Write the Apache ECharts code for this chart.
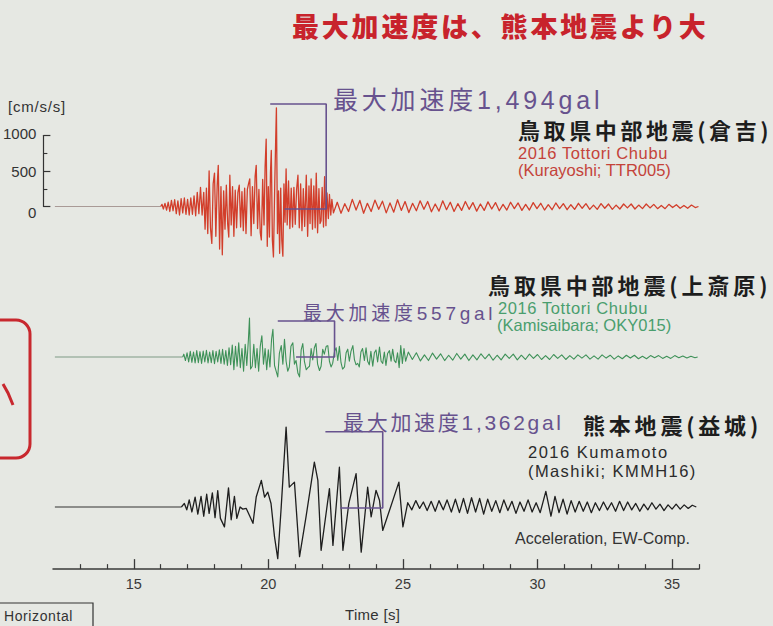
<!DOCTYPE html>
<html>
<head>
<meta charset="utf-8">
<script src="https://cdn.jsdelivr.net/npm/echarts@6/dist/echarts.min.js"></script>
<style>
html,body{margin:0;padding:0;background:#e6e8e3;}
#chart{width:773px;height:626px;}
</style>
</head>
<body>
<div id="chart"></div>
<script>
// ---------- DATA (time [s], acceleration [cm/s/s]) ----------
const timeTicks = [15, 20, 25, 30, 35];
const timeMinorTicks = [13, 14, 16, 17, 18, 19, 21, 22, 23, 24, 26, 27, 28, 29, 31, 32, 33, 34, 36];
const scaleTicks = [0, 500, 1000];

// 2016 Tottori Chubu (Kurayoshi; TTR005)
const kurayoshi = [
[12.07,0],[16.0,0],[16.05,30],[16.1,-35],[16.16,45],[16.22,-50],[16.28,60],[16.34,-70],[16.4,85],[16.46,-60],
[16.52,95],[16.58,-100],[16.64,80],[16.7,-120],[16.76,110],[16.82,-90],[16.88,120],[16.94,-110],[17.0,100],[17.06,-120],
[17.12,120],[17.18,-110],[17.24,150],[17.3,-130],[17.36,200],[17.42,-100],[17.48,270],[17.54,-120],[17.6,200],[17.65,-320],
[17.7,260],[17.75,-380],[17.8,500],[17.85,-300],[17.9,-520],[17.95,320],[18.0,470],[18.05,-420],[18.1,300],[18.14,580],
[18.19,-600],[18.24,280],[18.29,-680],[18.34,220],[18.39,-320],[18.44,300],[18.49,-250],[18.53,-430],[18.57,440],[18.62,-260],
[18.67,280],[18.72,-420],[18.77,230],[18.82,-300],[18.87,200],[18.92,300],[18.97,-290],[19.02,210],[19.07,-340],[19.12,260],
[19.17,-380],[19.22,240],[19.27,330],[19.31,390],[19.36,-410],[19.41,280],[19.46,-240],[19.51,430],[19.55,580],[19.6,-310],
[19.65,240],[19.7,-370],[19.74,-470],[19.79,380],[19.84,-260],[19.88,560],[19.92,950],[19.96,-560],[20.0,280],[20.04,-430],
[20.08,480],[20.11,790],[20.15,-470],[20.19,-710],[20.24,340],[20.27,880],[20.3,1390],[20.34,-380],[20.38,220],[20.42,-660],
[20.46,260],[20.5,-480],[20.54,-700],[20.58,320],[20.62,-220],[20.66,530],[20.7,-260],[20.75,360],[20.8,-310],[20.85,260],
[20.9,-290],[20.95,270],[21.0,-250],[21.05,240],[21.1,440],[21.15,-300],[21.2,320],[21.25,-340],[21.3,250],[21.35,-280],
[21.41,440],[21.46,-420],[21.51,290],[21.55,-240],[21.59,390],[21.64,-320],[21.69,290],[21.74,-300],[21.78,470],[21.83,-370],
[21.88,250],[21.92,-240],[21.96,-200],[22.0,270],[22.05,-290],[22.09,420],[22.14,-270],[22.18,190],[22.23,-170],[22.27,170],
[22.32,-120],[22.36,100],[22.42,-90],[22.56,60],[22.7,-95],[22.84,40],[22.98,-70],[23.12,100],[23.26,-50],[23.4,85],
[23.54,-95],[23.68,45],[23.82,-70],[23.96,90],[24.1,-40],[24.24,75],[24.38,-90],[24.52,50],[24.66,-80],[24.8,95],
[24.94,-55],[25.08,70],[25.22,-85],[25.36,45],[25.5,-60],[25.64,80],[25.78,-40],[25.92,70],[26.06,-75],[26.2,35],
[26.34,-65],[26.48,80],[26.62,-45],[26.76,60],[26.9,-70],[27.04,40],[27.18,-55],[27.32,70],[27.46,-40],[27.6,55],
[27.74,-65],[27.88,35],[28.02,-55],[28.16,65],[28.3,-35],[28.44,55],[28.58,-60],[28.72,30],[28.86,-50],[29.0,60],
[29.14,-30],[29.28,50],[29.42,-55],[29.56,30],[29.7,-50],[29.84,55],[29.98,-30],[30.12,45],[30.26,-50],[30.4,25],
[30.54,-45],[30.68,50],[30.82,-30],[30.96,40],[31.1,-45],[31.24,25],[31.38,-40],[31.52,45],[31.66,-25],[31.8,40],
[31.94,-40],[32.08,20],[32.22,-40],[32.36,40],[32.5,-25],[32.64,35],[32.78,-40],[32.92,20],[33.06,-35],[33.2,35],
[33.34,-20],[33.48,35],[33.62,-35],[33.76,20],[33.9,-30],[34.04,35],[34.18,-20],[34.32,30],[34.46,-30],[34.6,15],
[34.74,-30],[34.88,30],[35.02,-15],[35.16,25],[35.3,-25],[35.44,15],[35.58,-25],[35.72,20],[35.86,-15],[35.98,0]
];

// 2016 Tottori Chubu (Kamisaibara; OKY015)
const kamisaibara = [
[12.07,0],[16.82,0],[16.86,40],[16.92,-50],[16.98,60],[17.04,-70],[17.1,80],[17.16,-75],[17.22,70],[17.28,-85],
[17.34,90],[17.4,-80],[17.46,75],[17.52,-90],[17.58,85],[17.64,-70],[17.7,95],[17.76,-85],[17.82,70],[17.88,-80],
[17.94,90],[18.0,-95],[18.06,80],[18.12,-70],[18.18,100],[18.24,-90],[18.3,110],[18.36,-100],[18.42,90],[18.48,-120],
[18.54,130],[18.6,-110],[18.66,170],[18.72,-180],[18.78,150],[18.84,-130],[18.9,200],[18.96,-150],[19.02,120],[19.08,-200],
[19.14,180],[19.2,-120],[19.26,250],[19.3,550],[19.34,-170],[19.4,-130],[19.46,180],[19.52,-150],[19.58,120],[19.64,-200],
[19.7,150],[19.76,300],[19.82,-100],[19.88,120],[19.94,-180],[20.0,100],[20.06,-140],[20.12,250],[20.17,390],[20.23,-120],
[20.29,-200],[20.35,-280],[20.41,50],[20.48,160],[20.54,-100],[20.6,250],[20.66,-60],[20.72,-200],[20.78,-140],[20.84,150],
[20.91,200],[20.97,-100],[21.03,-50],[21.1,-230],[21.16,-280],[21.22,100],[21.28,190],[21.34,-60],[21.41,-180],[21.47,-150],
[21.53,-130],[21.59,120],[21.65,-40],[21.71,130],[21.77,190],[21.83,-100],[21.9,-190],[21.96,-130],[22.02,110],[22.08,40],
[22.15,150],[22.21,160],[22.27,-60],[22.33,-140],[22.39,-90],[22.46,80],[22.52,130],[22.58,-50],[22.64,150],[22.7,-80],
[22.76,-170],[22.83,-140],[22.89,60],[22.95,110],[23.01,-60],[23.07,80],[23.14,160],[23.2,-40],[23.26,-110],[23.32,-90],
[23.38,-140],[23.44,70],[23.5,120],[23.57,-50],[23.63,130],[23.69,-60],[23.75,-110],[23.81,80],[23.88,-130],[23.94,60],
[24.0,100],[24.06,-70],[24.13,140],[24.19,-60],[24.25,-90],[24.31,70],[24.37,-120],[24.43,50],[24.5,90],[24.56,-60],
[24.62,110],[24.68,-50],[24.74,-80],[24.8,60],[24.86,-150],[24.92,160],[24.98,-90],[25.04,120],[25.1,-60],[25.2,70],
[25.35,-35],[25.5,60],[25.65,-55],[25.8,30],[25.95,-50],[26.1,55],[26.25,-30],[26.4,45],[26.55,-50],[26.7,25],
[26.85,-45],[27.0,50],[27.15,-30],[27.3,40],[27.45,-50],[27.6,30],[27.75,-40],[27.9,45],[28.05,-25],[28.2,40],
[28.35,-45],[28.5,25],[28.65,-40],[28.8,40],[28.95,-20],[29.1,40],[29.25,-40],[29.4,25],[29.55,-35],[29.7,40],
[29.85,-20],[30.0,35],[30.15,-35],[30.3,20],[30.45,-35],[30.6,35],[30.75,-20],[30.9,30],[31.05,-35],[31.2,20],
[31.35,-30],[31.5,30],[31.65,-15],[31.8,30],[31.95,-30],[32.1,15],[32.25,-30],[32.4,30],[32.55,-15],[32.7,25],
[32.85,-30],[33.0,15],[33.15,-25],[33.3,25],[33.45,-15],[33.6,25],[33.75,-25],[33.9,10],[34.05,-25],[34.2,20],
[34.35,-10],[34.5,20],[34.65,-20],[34.8,10],[34.95,-20],[35.1,20],[35.25,-10],[35.4,15],[35.55,-15],[35.7,10],
[35.85,-10],[35.95,0]
];

// 2016 Kumamoto (Mashiki; KMMH16)
const mashiki = [
[12.07,0],[16.77,0],[16.88,50],[16.97,-40],[17.06,100],[17.16,-70],[17.28,140],[17.38,-100],[17.5,150],[17.6,-130],
[17.71,180],[17.8,-90],[17.92,200],[18.02,-150],[18.12,230],[18.22,-160],[18.37,-280],[18.52,270],[18.62,-180],[18.74,150],
[18.83,-160],[18.95,0],[19.05,-30],[19.18,-20],[19.3,-120],[19.43,-230],[19.55,140],[19.74,375],[19.86,140],[19.98,210],
[20.1,50],[20.23,-420],[20.35,-727],[20.47,-50],[20.66,1125],[20.78,280],[20.97,350],[21.16,-700],[21.4,-140],[21.71,633],
[21.84,375],[21.96,-610],[22.27,260],[22.4,-540],[22.64,560],[22.77,-610],[22.99,50],[23.26,470],[23.45,-635],[23.69,280],
[23.82,-140],[24.0,235],[24.13,95],[24.25,-330],[24.5,-50],[24.85,350],[25.0,-280],[25.18,60],[25.33,-40],[25.48,90],
[25.62,-20],[25.76,70],[25.9,-50],[26.05,80],[26.2,-60],[26.34,90],[26.5,-40],[26.64,100],[26.8,-70],[26.95,110],
[27.1,-80],[27.25,120],[27.4,-90],[27.55,130],[27.7,-70],[27.85,120],[28.0,-100],[28.15,110],[28.3,-60],[28.45,90],
[28.6,-80],[28.75,100],[28.9,-50],[29.05,80],[29.2,-90],[29.35,70],[29.5,-60],[29.65,100],[29.8,-70],[29.95,60],
[30.1,-80],[30.31,220],[30.5,-130],[30.65,150],[30.8,-80],[30.95,110],[31.1,-100],[31.25,90],[31.4,-70],[31.55,80],
[31.7,-60],[31.85,70],[32.0,-80],[32.15,60],[32.3,-50],[32.45,70],[32.6,-40],[32.75,60],[32.9,-60],[33.05,80],
[33.2,-50],[33.35,70],[33.5,-40],[33.65,50],[33.8,-60],[33.95,40],[34.1,-40],[34.25,60],[34.4,-30],[34.55,40],
[34.7,-50],[34.85,30],[35.0,-30],[35.15,40],[35.3,-30],[35.45,30],[35.6,-20],[35.75,25],[35.9,0]
];

// peak-acceleration brackets (data units)
const bracketKurayoshi = [[20.07,1444],[22.15,1444],[22.15,-35],[20.60,-35]];
const bracketKamisaibara = [[20.35,507],[22.46,507],[22.46,0],[21.03,0]];
const bracketMashiki = [[22.12,1060],[24.25,1060],[24.25,-14],[22.67,-14]];

// ---------- LAYOUT ----------
const PX = 0.071;            // px per cm/s/s
const LEFT = 53, RIGHT = 74;
function gridFor(base, lo, hi) {
  return { left: LEFT, right: RIGHT, top: base - hi * PX, height: (hi - lo) * PX };
}
const ranges = [[-1000, 1600], [-1000, 1600], [-875, 1600]];
const bases = [206.5, 357, 507];

const PURPLE = '#67528e';
const JP = "'Noto Sans CJK JP', sans-serif";
const LAT = "'Liberation Sans', 'Noto Sans CJK JP', sans-serif";

const labels = [
  ['最大加速度は、熊本地震より大', 292, 25, 27, 900, '#c8232c', JP, 2.8],
  ['[cm/s/s]', 8, 106, 15, 'normal', '#333', LAT, 0.8],
  ['最大加速度1,494gal', 333, 100, 25, 'normal', PURPLE, LAT, 3.8],
  ['鳥取県中部地震(倉吉)', 518, 129, 22, 'bold', '#1d1d1d', JP, 3.6],
  ['2016 Tottori Chubu', 518, 153, 16.5, 'normal', '#c4433a', LAT, 0.6],
  ['(Kurayoshi; TTR005)', 518, 170, 16.5, 'normal', '#c4433a', LAT, 0],
  ['鳥取県中部地震(上斎原)', 488, 284, 22, 'bold', '#1d1d1d', JP, 3.9],
  ['最大加速度557gal', 303, 313, 19, 'normal', PURPLE, LAT, 3.75],
  ['2016 Tottori Chubu ', 498, 308, 16.5, 'normal', '#4a9e6e', LAT, 0.6],
  ['(Kamisaibara; OKY015)', 497, 325, 16.5, 'normal', '#4a9e6e', LAT, 0],
  ['最大加速度1,362gal', 343, 422, 21, 'normal', PURPLE, LAT, 2.7],
  ['熊本地震(益城)', 583, 424, 22, 'bold', '#1d1d1d', JP, 3.8],
  ['2016 Kumamoto', 528, 452, 16.5, 'normal', '#2b2b2b', LAT, 1.5],
  ['(Mashiki; KMMH16)', 528, 471, 16.5, 'normal', '#2b2b2b', LAT, 1.4],
  ['Acceleration, EW-Comp.', 515, 538, 16, 'normal', '#333', LAT, 0],
  ['Time [s]', 345, 614, 15, 'normal', '#333', LAT, 0.3],
  ['Horizontal', 4, 616, 14, 'normal', '#333', LAT, 0.6]
];
const spacing = {};
labels.forEach(l => { spacing[l[0]] = l[7]; });

const graphics = labels.map(l => ({
  type: 'text', x: l[1], y: l[2], z: 10,
  style: { text: l[0], fontSize: l[3], fontWeight: l[4], fill: l[5], fontFamily: l[6], align: 'left', verticalAlign: 'middle' }
}));
graphics.push(
  { type: 'rect', shape: { x: -20, y: 320, width: 50, height: 138, r: 14 }, style: { fill: 'none', stroke: '#c8282e', lineWidth: 3 } },
  { type: 'polyline', shape: { points: [[3, 384], [8, 393], [13, 405]] }, style: { fill: 'none', stroke: '#c8282e', lineWidth: 3 } },
  { type: 'rect', shape: { x: -5, y: 603, width: 98, height: 40 }, style: { fill: 'none', stroke: '#333', lineWidth: 1.2 } }
);

const hiddenX = gi => ({ type: 'value', gridIndex: gi, min: 12, max: 36, show: false });
const hiddenY = gi => ({ type: 'value', gridIndex: gi, min: ranges[gi][0], max: ranges[gi][1], show: false });

function traceSeries(idx, data, color, leadColor, width, bracket) {
  return [
    { type: 'line', xAxisIndex: idx, yAxisIndex: idx, data: data.slice(0, 2), symbol: 'none', silent: true,
      lineStyle: { color: leadColor, width: 1.2 } },
    { type: 'line', xAxisIndex: idx, yAxisIndex: idx, data: data.slice(1), symbol: 'none', silent: true,
      lineStyle: { color: color, width: width, join: 'round' } },
    { type: 'line', xAxisIndex: idx, yAxisIndex: idx, data: bracket, symbol: 'none', silent: true, z: 5,
      lineStyle: { color: PURPLE, width: 1.6 } }
  ];
}

const option = {
  backgroundColor: '#e6e8e3',
  animation: false,
  grid: [
    gridFor(bases[0], ranges[0][0], ranges[0][1]),
    gridFor(bases[1], ranges[1][0], ranges[1][1]),
    gridFor(bases[2], ranges[2][0], ranges[2][1]),
    { left: 43, width: 10, top: bases[0] - 1000 * PX, height: 1000 * PX }
  ],
  xAxis: [
    hiddenX(0), hiddenX(1),
    { type: 'value', gridIndex: 2, min: 12, max: 36, position: 'bottom',
      axisLine: { show: true, onZero: false, lineStyle: { color: '#3a3a3a', width: 1.5 } },
      axisTick: { show: true, inside: true, length: 10, customValues: timeTicks, lineStyle: { color: '#3a3a3a', width: 1.3 } },
      axisLabel: { show: true, customValues: timeTicks, margin: 8, fontSize: 14.5, color: '#3a3a3a', fontFamily: LAT },
      splitLine: { show: false } },
    { type: 'value', gridIndex: 2, min: 12, max: 36, position: 'bottom',
      axisLine: { show: false, onZero: false },
      axisTick: { show: true, inside: true, length: 5, customValues: timeMinorTicks, lineStyle: { color: '#3a3a3a', width: 1.2 } },
      axisLabel: { show: false }, splitLine: { show: false } },
    { type: 'value', gridIndex: 3, min: 0, max: 1, show: false }
  ],
  yAxis: [
    hiddenY(0), hiddenY(1), hiddenY(2),
    { type: 'value', gridIndex: 3, min: 0, max: 1000, interval: 500, position: 'left',
      axisLine: { show: true, onZero: false, lineStyle: { color: '#333', width: 1.2 } },
      axisTick: { show: true, inside: true, length: 7, customValues: scaleTicks, lineStyle: { color: '#333', width: 1.2 } },
      minorTick: { show: true, splitNumber: 2, length: 4, lineStyle: { color: '#333', width: 1.1 } },
      splitLine: { show: false }, minorSplitLine: { show: false },
      axisLabel: { show: true, customValues: scaleTicks, margin: 7, fontSize: 15, color: '#333', fontFamily: LAT,
        formatter: v => v === 0 ? '{lo|0}' : (v === 1000 ? '{hi|1000}' : String(v)),
        rich: { lo: { fontSize: 15, padding: [11, 0, 0, 0], fontFamily: LAT, color: '#333' },
                hi: { fontSize: 15, padding: [0, 0, 5, 0], fontFamily: LAT, color: '#333' } } } }
  ],
  graphic: graphics,
  series: [
    ...traceSeries(0, kurayoshi, '#d23e2b', '#a99a96', 1.3, bracketKurayoshi),
    ...traceSeries(1, kamisaibara, '#3e9158', '#7f9a86', 1.1, bracketKamisaibara),
    ...traceSeries(2, mashiki, '#1e1e1e', '#333', 1.3, bracketMashiki)
  ]
};

const chart = echarts.init(document.getElementById('chart'), null, { renderer: 'svg', width: 773, height: 626 });
chart.setOption(option);

function applySpacing() {
  document.querySelectorAll('#chart svg text').forEach(t => {
    const s = spacing[t.textContent];
    if (s) t.setAttribute('letter-spacing', s);
  });
}
applySpacing();
chart.on('finished', applySpacing);
setTimeout(applySpacing, 0);
setTimeout(applySpacing, 100);
</script>
</body>
</html>
